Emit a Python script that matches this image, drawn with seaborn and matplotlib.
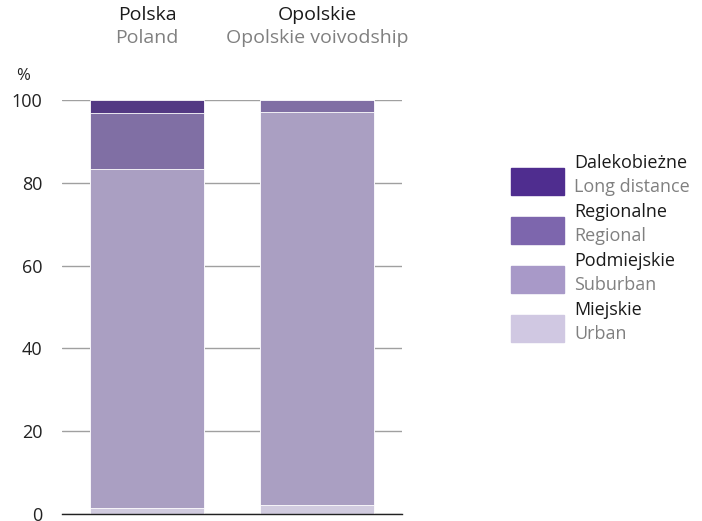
import pandas as pd
import numpy as np
import matplotlib.pyplot as plt
import matplotlib.patches as mpatches
import seaborn as sns

# data (% share of passengers)
regions = ["Polska", "Opolskie"]
regions_en = ["Poland", "Opolskie voivodship"]
categories = ["Miejskie", "Podmiejskie", "Regionalne", "Dalekobieżne"]
categories_en = ["Urban", "Suburban", "Regional", "Long distance"]
urban = [1.5, 2.2]
suburban = [81.9, 94.9]
regional = [13.5, 2.9]
long_distance = [3.1, 0.0]
colors = ["#d0c8e2", "#a899c8", "#7d66ad", "#4f2d8f"]

data = pd.DataFrame({"region": regions, "Miejskie": urban, "Podmiejskie": suburban,
                     "Regionalne": regional, "Dalekobieżne": long_distance})
cum = data[categories].cumsum(axis=1)
cum["region"] = data["region"]

sns.set_style("white")
plt.rcParams["font.family"] = ["Open Sans", "DejaVu Sans"]

fig = plt.figure(figsize=(7.02, 5.21), dpi=100)
ax = fig.add_axes([62 / 702, 7 / 521, 340 / 702, 414 / 521])

# draw stacked bars from top segment down
for cat, col in reversed(list(zip(categories, colors))):
    sns.barplot(data=cum, x="region", y=cat, color=col, width=0.67,
                edgecolor="white", linewidth=0.6, ax=ax, zorder=3)

ax.set_xlim(-0.5, 1.5)
ax.set_ylim(0, 100)
ax.set_yticks([0, 20, 40, 60, 80, 100])
ax.yaxis.grid(True, color="#a0a0a0", linewidth=1, zorder=0)
ax.set_axisbelow(True)
for s in ["top", "right", "left"]:
    ax.spines[s].set_visible(False)
ax.spines["bottom"].set_color("#222222")
ax.spines["bottom"].set_linewidth(1)
ax.spines["bottom"].set_zorder(4)
ax.set_xlabel("")
ax.set_ylabel("")
ax.set_xticks([])
ax.tick_params(axis="y", length=0, pad=14, labelsize=13, colors="#222222")

fig.text(23 / 702, 1 - 76 / 521, "%", fontsize=12, color="#222222",
         ha="center", va="center")

# column headings
for i, (pl, en) in enumerate(zip(regions, regions_en)):
    ax.text(i, 1.205, pl, transform=ax.get_xaxis_transform(), ha="center",
            va="center", fontsize=14, color="#1a1a1a")
    ax.text(i, 1.15, en, transform=ax.get_xaxis_transform(), ha="center",
            va="center", fontsize=14, color="#808080")

# legend drawn by hand (two-colour labels)
top_px = 168
for k, (cat, en, col) in enumerate(reversed(list(zip(categories, categories_en, colors)))):
    y0 = top_px + k * 49
    fig.patches.append(mpatches.Rectangle((511 / 702, 1 - (y0 + 27) / 521), 53 / 702, 27 / 521,
                                          transform=fig.transFigure, color=col))
    fig.text(574 / 702, 1 - (y0 - 5) / 521, cat, fontsize=13, color="#1a1a1a",
             ha="left", va="center")
    fig.text(574 / 702, 1 - (y0 + 19) / 521, en, fontsize=13, color="#808080",
             ha="left", va="center")

fig.savefig("out.png", dpi=100)
